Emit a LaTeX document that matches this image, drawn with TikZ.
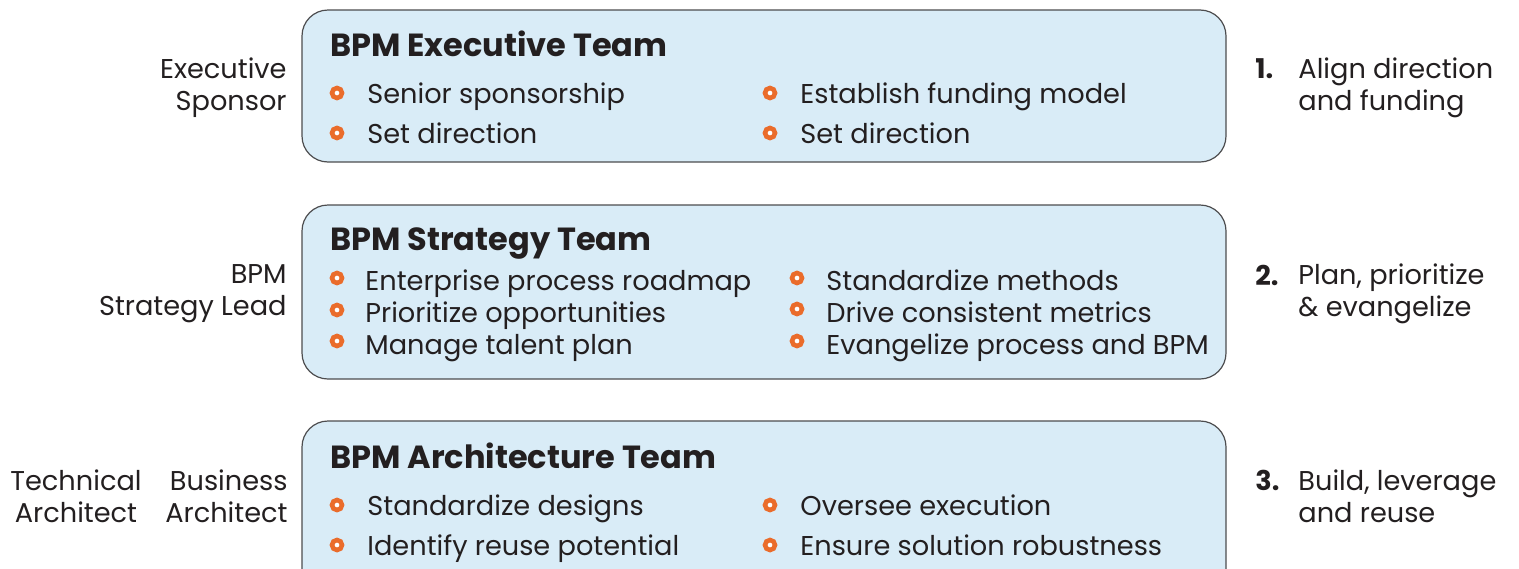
\documentclass[tikz,border=0pt]{standalone}
\usepackage{fontspec}
\setmainfont{Poppins}
\usetikzlibrary{positioning}
\definecolor{boxfill}{HTML}{D9ECF7}
\definecolor{boxline}{HTML}{4D4D4F}
\definecolor{dotorange}{HTML}{EA6C2B}
\definecolor{inkgray}{HTML}{231F20}

\begin{document}
\begin{tikzpicture}[x=0.5pt,y=-0.5pt,
	teambox/.style={draw=boxline, fill=boxfill, line width=0.6pt, rounded corners=13pt},
	title/.style={anchor=base west, inner sep=0pt, text=inkgray, font=\fontsize{16}{19}\selectfont\bfseries},
	item/.style={anchor=base west, inner sep=0pt, text=inkgray, font=\fontsize{13.6}{16}\selectfont},
	bullet/.style={circle, draw=dotorange, fill=white, line width=2.3pt, inner sep=0pt, minimum size=5pt},
	role/.style={align=right, anchor=east, inner sep=0pt, text=inkgray, font=\fontsize{13.6}{16}\selectfont},
	stepnum/.style={anchor=base west, inner sep=0pt, text=inkgray, font=\fontsize{13.6}{16}\selectfont\bfseries},
	steptext/.style={align=left, anchor=west, inner sep=0pt, text=inkgray, font=\fontsize{13.6}{16}\selectfont}]
			\useasboundingbox (0,0) rectangle (1519,568);
			\clip (0,0) rectangle (1519,568);

			% executive team
			\draw[teambox] (302,10) rectangle (1226,162);
			\node[title] (exec) at (330,56) {BPM Executive Team};
			\node[bullet] (e1) at (337,93) {};
			\node[item] (e1t) at (367,103) {Senior sponsorship};
			\node[bullet] (e2) at (337,133) {};
			\node[item] (e2t) at (367,143) {Set direction};
			\node[bullet] (e3) at (770,93) {};
			\node[item] (e3t) at (800,103) {Establish funding model};
			\node[bullet] (e4) at (770,133) {};
			\node[item] (e4t) at (800,143) {Set direction};

			% strategy team
			\draw[teambox] (302,205) rectangle (1226,379);
			\node[title] (strat) at (330,250) {BPM Strategy Team};
			\node[bullet] (s1) at (337,278) {};
			\node[item] (s1t) at (365,290) {Enterprise process roadmap};
			\node[bullet] (s2) at (337,310) {};
			\node[item] (s2t) at (365,322) {Prioritize opportunities};
			\node[bullet] (s3) at (337,341) {};
			\node[item] (s3t) at (365,354) {Manage talent plan};
			\node[bullet] (s4) at (797,278) {};
			\node[item] (s4t) at (826,290) {Standardize methods};
			\node[bullet] (s5) at (797,309) {};
			\node[item] (s5t) at (826,322) {Drive consistent metrics};
			\node[bullet] (s6) at (797,341) {};
			\node[item] (s6t) at (826,354) {Evangelize process and BPM};

			% architecture team
			\draw[teambox] (302,421) rectangle (1226,620);
			\node[title] (arch) at (330,468) {BPM Architecture Team};
			\node[bullet] (a1) at (337,505) {};
			\node[item] (a1t) at (367,515) {Standardize designs};
			\node[bullet] (a2) at (337,545) {};
			\node[item] (a2t) at (367,555) {Identify reuse potential};
			\node[bullet] (a3) at (770,505) {};
			\node[item] (a3t) at (800,515) {Oversee execution};
			\node[bullet] (a4) at (770,545) {};
			\node[item] (a4t) at (800,555) {Ensure solution robustness};

			% roles
			\node[role] (sponsor) at (287,88) {Executive\\Sponsor};
			\node[role] (lead) at (287,294) {BPM\\Strategy Lead};
			\node[role] (busarch) at (288,496) {Business\\Architect};
			\node[role, align=center, anchor=center] (techarch) at (76,496) {Technical\\Architect};

			% steps
			\node[stepnum] (n1) at (1255,78) {1.};
			\node[steptext] (t1) at (1298,88) {Align direction\\and funding};
			\node[stepnum] (n2) at (1255,285) {2.};
			\node[steptext] (t2) at (1298,294) {Plan, prioritize\\\& evangelize};
			\node[stepnum] (n3) at (1255,490) {3.};
			\node[steptext] (t3) at (1298,496) {Build, leverage\\and reuse};
		\end{tikzpicture}
\end{document}
